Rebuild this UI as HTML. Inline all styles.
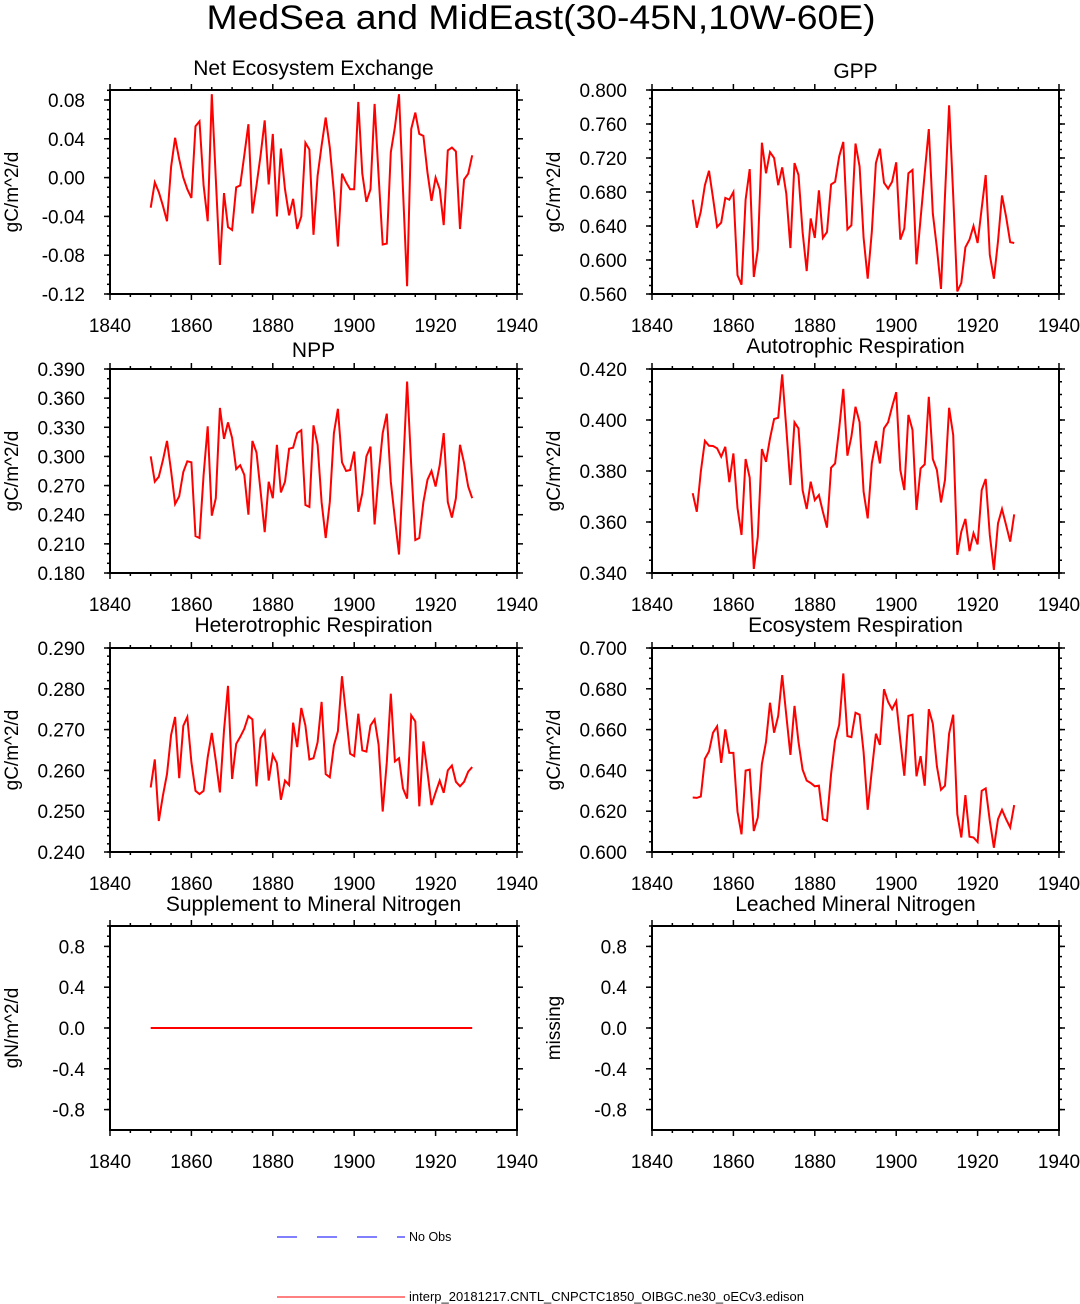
<!DOCTYPE html>
<html><head><meta charset="utf-8"><style>
body{margin:0;background:#fff;}
svg{display:block;font-family:"Liberation Sans",Arial,sans-serif;}
</style></head><body>
<svg id="chart" width="1080" height="1304" viewBox="0 0 1080 1304" xmlns="http://www.w3.org/2000/svg">
<text x="541" y="29" font-size="34" text-anchor="middle" textLength="669" lengthAdjust="spacingAndGlyphs">MedSea and MidEast(30-45N,10W-60E)</text>
<line x1="277" y1="1237" x2="405" y2="1237" stroke="#0000ff" stroke-width="1" stroke-dasharray="20,20"/>
<text x="409" y="1241" font-size="12.5">No Obs</text>
<line x1="277" y1="1297" x2="405" y2="1297" stroke="#ff0000" stroke-width="1"/>
<text x="409" y="1301" font-size="12.5" textLength="395" lengthAdjust="spacingAndGlyphs">interp_20181217.CNTL_CNPCTC1850_OIBGC.ne30_oECv3.edison</text>
</svg>
<script>
const years = [];
for (let y = 1850; y <= 1929; y++) years.push(y);
const xTicks = [1840, 1860, 1880, 1900, 1920, 1940];
const neeValues = [-0.031,-0.005,-0.015,-0.029,-0.045,0.011,0.041,0.019,0.000,-0.012,-0.021,0.053,0.058,-0.008,-0.045,0.086,-0.001,-0.090,-0.016,-0.051,-0.054,-0.010,-0.008,0.023,0.055,-0.037,-0.008,0.023,0.059,-0.007,0.045,-0.040,0.030,-0.012,-0.039,-0.022,-0.053,-0.040,0.036,0.029,-0.059,0.002,0.033,0.062,0.031,-0.015,-0.071,0.004,-0.005,-0.012,-0.012,0.078,0.004,-0.025,-0.012,0.076,0.002,-0.069,-0.068,0.026,0.052,0.086,-0.013,-0.112,0.050,0.067,0.045,0.043,0.005,-0.024,0.000,-0.012,-0.049,0.028,0.031,0.027,-0.053,-0.002,0.004,0.023];
const gppValues = [0.671,0.638,0.657,0.688,0.705,0.673,0.639,0.644,0.673,0.671,0.680,0.582,0.571,0.671,0.707,0.580,0.612,0.738,0.702,0.727,0.720,0.688,0.709,0.678,0.614,0.714,0.700,0.633,0.587,0.649,0.626,0.682,0.626,0.633,0.689,0.692,0.722,0.739,0.636,0.641,0.737,0.710,0.626,0.578,0.633,0.714,0.731,0.691,0.684,0.692,0.715,0.624,0.637,0.702,0.706,0.595,0.649,0.702,0.754,0.655,0.614,0.566,0.676,0.782,0.676,0.563,0.573,0.615,0.624,0.640,0.620,0.661,0.700,0.606,0.578,0.622,0.676,0.651,0.621,0.620];
const nppValues = [0.300,0.274,0.279,0.296,0.316,0.285,0.251,0.259,0.284,0.295,0.294,0.218,0.216,0.281,0.331,0.239,0.257,0.350,0.318,0.335,0.319,0.287,0.291,0.281,0.240,0.316,0.304,0.264,0.222,0.274,0.257,0.312,0.263,0.274,0.308,0.309,0.324,0.327,0.250,0.248,0.332,0.312,0.253,0.216,0.253,0.324,0.349,0.294,0.285,0.286,0.305,0.243,0.262,0.300,0.310,0.230,0.281,0.324,0.344,0.274,0.236,0.199,0.284,0.377,0.291,0.214,0.216,0.253,0.276,0.285,0.269,0.291,0.324,0.253,0.237,0.257,0.312,0.293,0.269,0.257];
const arValues = [0.3713,0.3640,0.3797,0.3918,0.3899,0.3898,0.3889,0.3856,0.3895,0.3756,0.3869,0.3654,0.3549,0.3847,0.3774,0.3416,0.3542,0.3886,0.3836,0.3928,0.4004,0.4009,0.4179,0.3967,0.3745,0.3991,0.3967,0.3725,0.3651,0.3758,0.3686,0.3706,0.3640,0.3578,0.3813,0.3830,0.3967,0.4122,0.3860,0.3935,0.4052,0.3991,0.3719,0.3614,0.3830,0.3918,0.3830,0.3967,0.3991,0.4052,0.4109,0.3804,0.3725,0.4020,0.3961,0.3647,0.3810,0.3826,0.4091,0.3847,0.3804,0.3677,0.3765,0.4048,0.3941,0.3471,0.3562,0.3612,0.3486,0.3556,0.3512,0.3725,0.3769,0.3549,0.3412,0.3595,0.3651,0.3588,0.3523,0.3630];
const hrValues = [0.2558,0.2627,0.2476,0.2538,0.2591,0.2687,0.2731,0.2581,0.2709,0.2731,0.2620,0.2550,0.2542,0.2550,0.2632,0.2692,0.2624,0.2546,0.2698,0.2807,0.2579,0.2665,0.2682,0.2702,0.2733,0.2725,0.2561,0.2679,0.2696,0.2575,0.2638,0.2618,0.2528,0.2575,0.2564,0.2717,0.2657,0.2753,0.2710,0.2627,0.2630,0.2669,0.2768,0.2591,0.2583,0.2661,0.2696,0.2831,0.2735,0.2641,0.2635,0.2739,0.2649,0.2646,0.2710,0.2725,0.2663,0.2499,0.2620,0.2788,0.2622,0.2630,0.2556,0.2531,0.2735,0.2720,0.2512,0.2671,0.2595,0.2515,0.2546,0.2575,0.2545,0.2600,0.2612,0.2572,0.2561,0.2572,0.2597,0.2608];
const erValues = [0.6267,0.6265,0.6272,0.6457,0.6493,0.6585,0.6616,0.6437,0.6601,0.6486,0.6486,0.6197,0.6087,0.6399,0.6404,0.6103,0.6169,0.6432,0.6539,0.6732,0.6585,0.6667,0.6867,0.6670,0.6476,0.6716,0.6539,0.6404,0.6350,0.6338,0.6322,0.6325,0.6161,0.6153,0.6383,0.6547,0.6624,0.6875,0.6568,0.6563,0.6683,0.6673,0.6489,0.6207,0.6399,0.6580,0.6525,0.6798,0.6736,0.6700,0.6739,0.6547,0.6374,0.6667,0.6673,0.6371,0.6470,0.6325,0.6700,0.6629,0.6420,0.6305,0.6325,0.6580,0.6673,0.6186,0.6071,0.6279,0.6075,0.6071,0.6049,0.6300,0.6312,0.6153,0.6021,0.6161,0.6207,0.6161,0.6120,0.6230];
const nsupValues = years.map(() => 0);
const neeTicks = [0.08,0.04,0.00,-0.04,-0.08,-0.12];
const gppTicks = [0.800,0.760,0.720,0.680,0.640,0.600,0.560];
const nppTicks = [0.390,0.360,0.330,0.300,0.270,0.240,0.210,0.180];
const arTicks = [0.420,0.400,0.380,0.360,0.340];
const hrTicks = [0.290,0.280,0.270,0.260,0.250,0.240];
const erTicks = [0.700,0.680,0.660,0.640,0.620,0.600];
const nTicks = [0.8,0.4,0.0,-0.4,-0.8];

const NS = 'http://www.w3.org/2000/svg';
const svg = document.getElementById('chart');
function mk(tag, attrs, parent) {
  const e = document.createElementNS(NS, tag);
  for (const k in attrs) e.setAttribute(k, attrs[k]);
  (parent || svg).appendChild(e);
  return e;
}
function panel(cfg) {
  const g = mk('g', {});
  
  
  const L = cfg.left, T = cfg.top, W = 407, H = 204;
  const sx = v => L + (v - 1840) / 100 * W;
  const sy = v => T + (cfg.ymax - v) / (cfg.ymax - cfg.ymin) * H;
  const frame = mk('rect', {x: L, y: T, width: W, height: H, fill: 'none', stroke: '#000', 'stroke-width': 2}, g);
  
  
  for (let yr = 1840; yr <= 1940; yr += 5) {
    const maj = (yr % 20 === 0);
    const len = maj ? 6 : 3;
    const x = sx(yr);
    mk('line', {x1: x, y1: T + H, x2: x, y2: T + H + len, stroke: '#000', 'stroke-width': 1.5}, g);
    mk('line', {x1: x, y1: T, x2: x, y2: T - len, stroke: '#000', 'stroke-width': 1.5}, g);
  }
  xTicks.forEach(t => {
    const tx = mk('text', {x: sx(t), y: T + H + 38, 'font-size': 19, 'text-anchor': 'middle'}, g);
    tx.textContent = t;
    
    
  });
  const step = cfg.minor;
  for (let v = cfg.ticks[cfg.ticks.length - 1]; v <= cfg.ymax + 1e-9; v += step) {
    const y = sy(v);
    if (y < T - 0.5 || y > T + H + 0.5) continue;
    mk('line', {x1: L, y1: y, x2: L - 3, y2: y, stroke: '#000', 'stroke-width': 1.5}, g);
    mk('line', {x1: L + W, y1: y, x2: L + W + 3, y2: y, stroke: '#000', 'stroke-width': 1.5}, g);
  }
  cfg.ticks.forEach(t => {
    const y = sy(t);
    mk('line', {x1: L, y1: y, x2: L - 6, y2: y, stroke: '#000', 'stroke-width': 1.5}, g);
    mk('line', {x1: L + W, y1: y, x2: L + W + 6, y2: y, stroke: '#000', 'stroke-width': 1.5}, g);
    const ty = mk('text', {x: L - 25, y: y + 7, 'font-size': 19, 'text-anchor': 'end'}, g);
    ty.textContent = t.toFixed(cfg.dec);
    
    
  });
  const title = mk('text', {x: L + W / 2, y: cfg.titleY, 'font-size': 21, 'text-anchor': 'middle'}, g);
  title.textContent = cfg.title;
  
  
  const ycx = L - 92, ycy = T + H / 2;
  const yl = mk('text', {x: ycx, y: ycy, 'font-size': 19, 'text-anchor': 'middle', transform: 'rotate(-90 ' + ycx + ' ' + ycy + ')'}, g);
  yl.textContent = cfg.ylabel;
  
  
  if (cfg.values) {
    const pts = cfg.values.map((v, i) => sx(years[i]).toFixed(1) + ',' + sy(v).toFixed(1)).join(' ');
    const pl = mk('polyline', {points: pts, fill: 'none', stroke: '#ff0000', 'stroke-width': 2, 'stroke-linejoin': 'miter'}, g);
    
    
  }
}
panel({name: 'nee', left: 110, top: 90, ymin: -0.12, ymax: 0.0903, ticks: neeTicks, minor: 0.01, dec: 2, title: 'Net Ecosystem Exchange', titleY: 75, ylabel: 'gC/m^2/d', values: neeValues});
panel({name: 'gpp', left: 652, top: 90, ymin: 0.56, ymax: 0.80, ticks: gppTicks, minor: 0.01, dec: 3, title: 'GPP', titleY: 78, ylabel: 'gC/m^2/d', values: gppValues});
panel({name: 'npp', left: 110, top: 369, ymin: 0.18, ymax: 0.39, ticks: nppTicks, minor: 0.01, dec: 3, title: 'NPP', titleY: 357, ylabel: 'gC/m^2/d', values: nppValues});
panel({name: 'ar', left: 652, top: 369, ymin: 0.34, ymax: 0.42, ticks: arTicks, minor: 0.005, dec: 3, title: 'Autotrophic Respiration', titleY: 353, ylabel: 'gC/m^2/d', values: arValues});
panel({name: 'hr', left: 110, top: 648, ymin: 0.24, ymax: 0.29, ticks: hrTicks, minor: 0.002, dec: 3, title: 'Heterotrophic Respiration', titleY: 632, ylabel: 'gC/m^2/d', values: hrValues});
panel({name: 'er', left: 652, top: 648, ymin: 0.60, ymax: 0.70, ticks: erTicks, minor: 0.005, dec: 3, title: 'Ecosystem Respiration', titleY: 632, ylabel: 'gC/m^2/d', values: erValues});
panel({name: 'nsup', left: 110, top: 926, ymin: -1, ymax: 1, ticks: nTicks, minor: 0.1, dec: 1, title: 'Supplement to Mineral Nitrogen', titleY: 911, ylabel: 'gN/m^2/d', values: nsupValues});
panel({name: 'nleach', left: 652, top: 926, ymin: -1, ymax: 1, ticks: nTicks, minor: 0.1, dec: 1, title: 'Leached Mineral Nitrogen', titleY: 911, ylabel: 'missing', values: null});
</script>
</body></html>
